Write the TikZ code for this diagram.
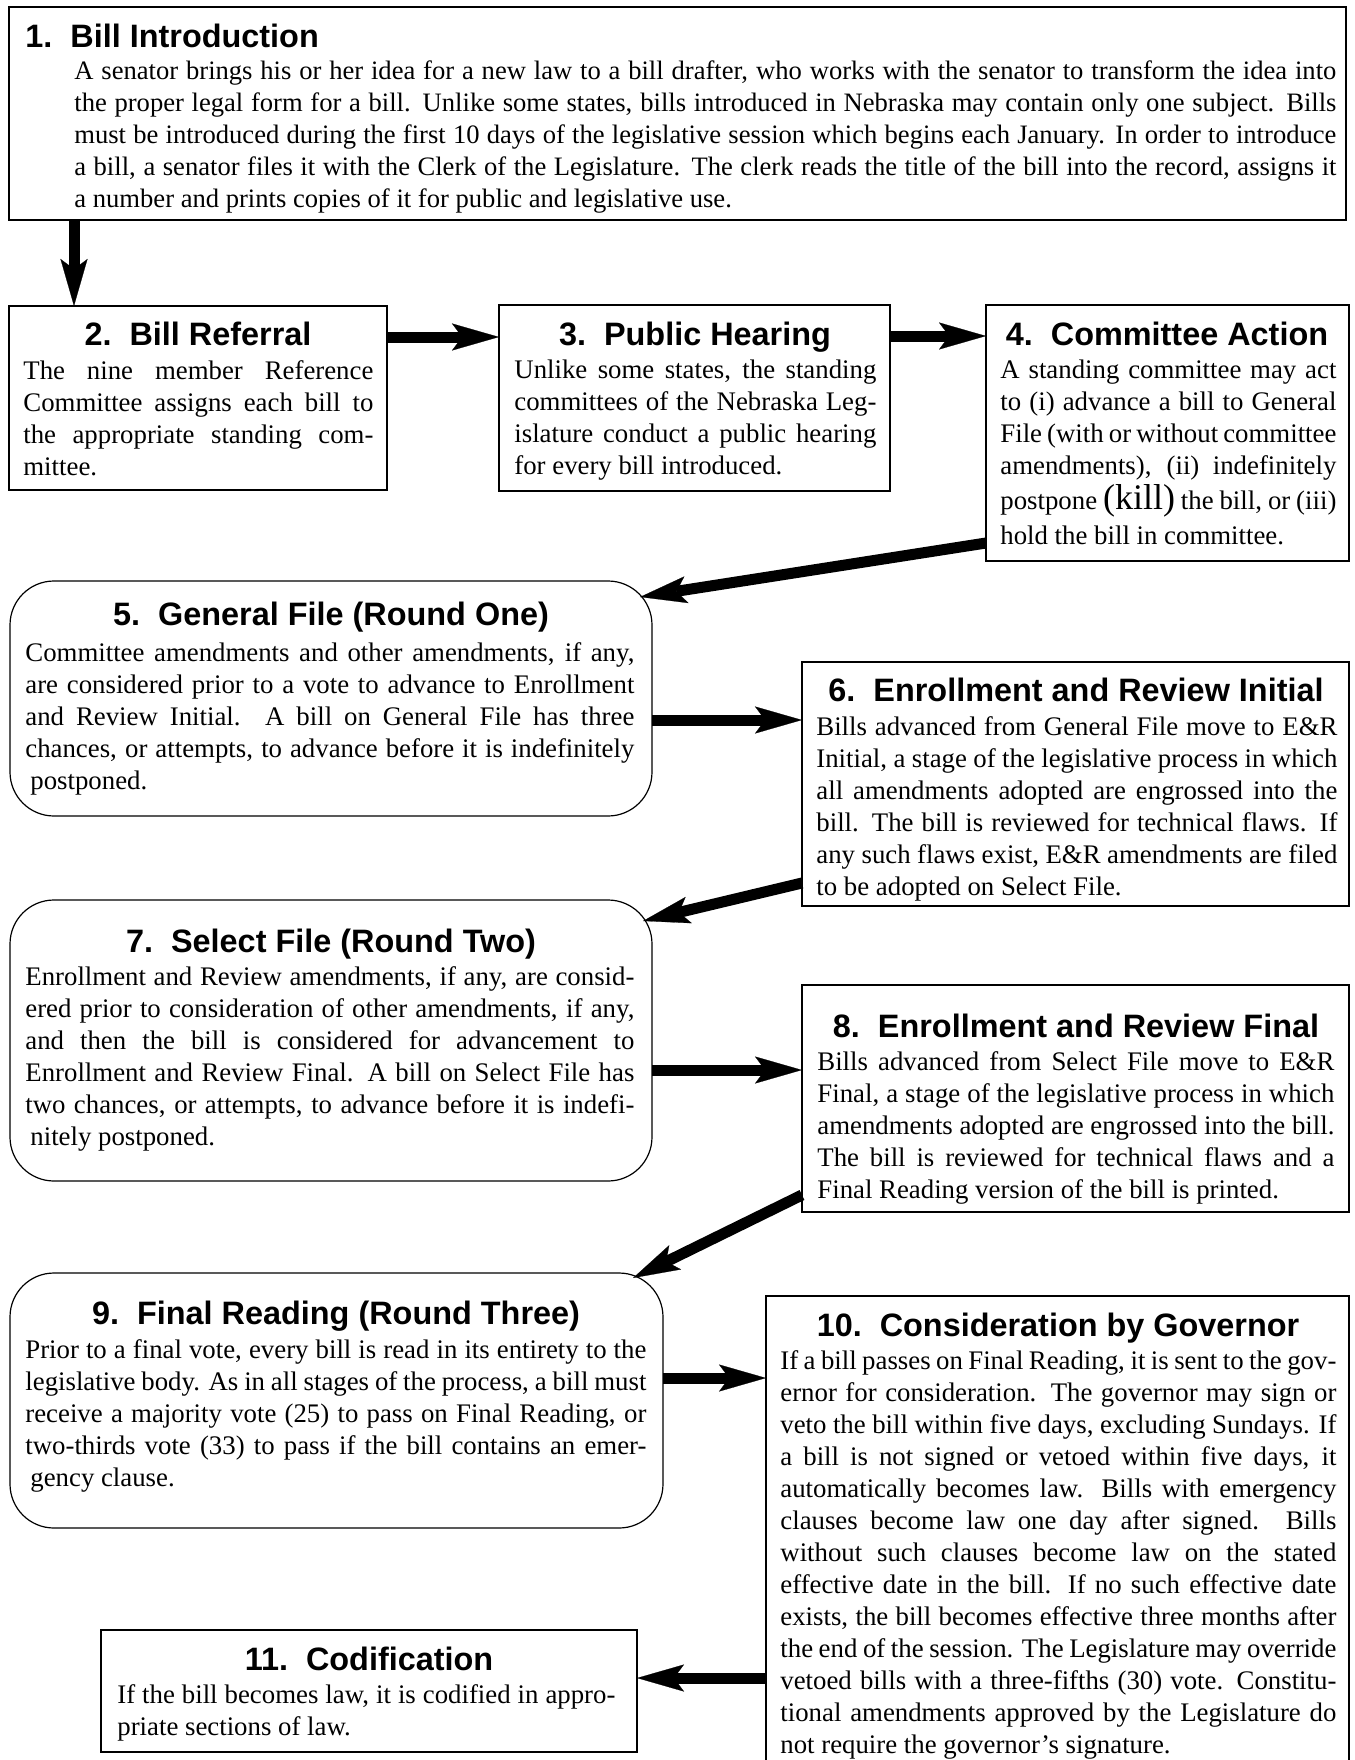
\documentclass[tikz,border=0pt]{standalone}
\usepackage{fontspec}
\setmainfont{Liberation Serif}
\newfontfamily\headfont{Liberation Sans}
\usetikzlibrary{arrows.meta,calc,fit}
\newcommand\bodysize{\fontsize{13.4pt}{16pt}\selectfont}
\newcommand\Ln[1]{\hbox to\hsize{#1}}
\newcommand\Le[1]{\hbox{#1}}
\newcommand\Body[2]{\vtop{\hsize=#1\relax\bodysize #2}}
\tikzset{
  sqbox/.style={draw, line width=0.6pt, inner sep=0pt, outer sep=0pt},
  rdbox/.style={sqbox, rounded corners=22pt},
  ttl/.style={inner sep=0pt, font=\headfont\bfseries\fontsize{16.2pt}{19pt}\selectfont},
  txt/.style={inner sep=0pt, anchor=base west},
  arr/.style={line width=5.5pt, -{Stealth[length=23.5pt,width=13.5pt,inset=5pt,line width=0.1pt]}}
}
\begin{document}
\begin{tikzpicture}[x=0.5pt,y=-0.5pt]
\useasboundingbox (0,0) rectangle (1354,1760);
% boxes
\node[sqbox, fit={(9,7) (1346,220)}] (b1) {};
\node[sqbox, fit={(9,306) (387,490)}] (b2) {};
\node[sqbox, fit={(499,305) (890,491)}] (b3) {};
\node[sqbox, fit={(986,305) (1349,561)}] (b4) {};
\node[rdbox, fit={(10,581) (652,816)}] (b5) {};
\node[sqbox, fit={(802,662) (1349,906)}] (b6) {};
\node[rdbox, fit={(10,900) (652,1181)}] (b7) {};
\node[sqbox, fit={(802,985) (1349,1212)}] (b8) {};
\node[rdbox, fit={(10,1273) (663,1528)}] (b9) {};
\node[sqbox, fit={(766,1296) (1349,1780)}] (b10) {};
\node[sqbox, fit={(101,1630) (637,1752)}] (b11) {};
% titles
\node[ttl, anchor=base west] (h1) at (25,48) {1.\ \ Bill Introduction};
\node[ttl, anchor=base] (h2) at (198,345) {2.\ \ Bill Referral};
\node[ttl, anchor=base] (h3) at (695,345) {3.\ \ Public Hearing};
\node[ttl, anchor=base] (h4) at (1167,345) {4.\ \ Committee Action};
\node[ttl, anchor=base] (h5) at (331,625) {5.\ \ General File (Round One)};
\node[ttl, anchor=base] (h6) at (1076,701) {6.\ \ Enrollment and Review Initial};
\node[ttl, anchor=base] (h7) at (331,952) {7.\ \ Select File (Round Two)};
\node[ttl, anchor=base] (h8) at (1076,1037) {8.\ \ Enrollment and Review Final};
\node[ttl, anchor=base] (h9) at (336,1324) {9.\ \ Final Reading (Round Three)};
\node[ttl, anchor=base] (h10) at (1058,1336) {10.\ \ Consideration by Governor};
\node[ttl, anchor=base] (h11) at (369,1670) {11.\ \ Codification};
% texts
\node[txt] (t1) at (74,80) {\vtop{\hsize=631pt\relax\fontsize{13.3pt}{16pt}\selectfont
\Ln{A senator brings his or her idea for a new law to a bill drafter, who works with the senator to transform the idea into}%
\Ln{the proper legal form for a bill.  Unlike some states, bills introduced in Nebraska may contain only one subject.  Bills}%
\Ln{must be introduced during the first 10 days of the legislative session which begins each January.  In order to introduce}%
\Ln{a bill, a senator files it with the Clerk of the Legislature.  The clerk reads the title of the bill into the record, assigns it}%
\Le{a number and prints copies of it for public and legislative use.}}};
\node[txt] (t2) at (23,379) {\Body{175pt}{%
\Ln{The nine member Reference}%
\Ln{Committee assigns each bill to}%
\Ln{the appropriate standing com-}%
\Le{mittee.}}};
\node[txt] (t3) at (514,378) {\Body{181pt}{%
\Ln{Unlike some states, the standing}%
\Ln{committees of the Nebraska Leg-}%
\Ln{islature conduct a public hearing}%
\Le{for every bill introduced.}}};
\node[txt] (t4) at (1000,378) {\Body{168pt}{%
\Ln{A standing committee may act}%
\Ln{to (i) advance a bill to General}%
\Ln{File (with or without committee}%
\Ln{amendments), (ii) indefinitely}%
\kern1.6pt
\Ln{postpone {\fontsize{18pt}{16pt}\selectfont (kill)} the bill, or (iii)}%
\kern1.4pt
\Le{hold the bill in committee.}}};
\node[txt] (t5) at (25,661) {\Body{304.5pt}{%
\Ln{Committee amendments and other amendments, if any,}%
\Ln{are considered prior to a vote to advance to Enrollment}%
\Ln{and Review Initial.  A bill on General File has three}%
\Ln{chances, or attempts, to advance before it is indefinitely}%
\Le{\hspace*{2.5pt}postponed.}}};
\node[txt] (t6) at (816,735) {\Body{260.5pt}{%
\Ln{Bills advanced from General File move to E\&R}%
\Ln{Initial, a stage of the legislative process in which}%
\Ln{all amendments adopted are engrossed into the}%
\Ln{bill.  The bill is reviewed for technical flaws.  If}%
\Ln{any such flaws exist, E\&R amendments are filed}%
\Le{to be adopted on Select File.}}};
\node[txt] (t7) at (25,985) {\Body{304.5pt}{%
\Ln{Enrollment and Review amendments, if any, are consid-}%
\Ln{ered prior to consideration of other amendments, if any,}%
\Ln{and then the bill is considered for advancement to}%
\Ln{Enrollment and Review Final.  A bill on Select File has}%
\Ln{two chances, or attempts, to advance before it is indefi-}%
\Le{\hspace*{2.5pt}nitely postponed.}}};
\node[txt] (t8) at (817,1070) {\Body{258.5pt}{%
\Ln{Bills advanced from Select File move to E\&R}%
\Ln{Final, a stage of the legislative process in which}%
\Ln{amendments adopted are engrossed into the bill.}%
\Ln{The bill is reviewed for technical flaws and a}%
\Le{Final Reading version of the bill is printed.}}};
\node[txt] (t9) at (25,1358) {\Body{310.5pt}{%
\Ln{Prior to a final vote, every bill is read in its entirety to the}%
\Ln{legislative body.  As in all stages of the process, a bill must}%
\Ln{receive a majority vote (25) to pass on Final Reading, or}%
\Ln{two-thirds vote (33) to pass if the bill contains an emer-}%
\Le{\hspace*{2.5pt}gency clause.}}};
\node[txt] (t10) at (780,1369) {\Body{278pt}{%
\Ln{If a bill passes on Final Reading, it is sent to the gov-}%
\Ln{ernor for consideration.  The governor may sign or}%
\Ln{veto the bill within five days, excluding Sundays.  If}%
\Ln{a bill is not signed or vetoed within five days, it}%
\Ln{automatically becomes law.  Bills with emergency}%
\Ln{clauses become law one day after signed.  Bills}%
\Ln{without such clauses become law on the stated}%
\Ln{effective date in the bill.  If no such effective date}%
\Ln{exists, the bill becomes effective three months after}%
\Ln{the end of the session. The Legislature may override}%
\Ln{vetoed bills with a three-fifths (30) vote.  Constitu-}%
\Ln{tional amendments approved by the Legislature do}%
\Le{not require the governor’s signature.}}};
\node[txt] (t11) at (117,1703) {\Body{249pt}{%
\Ln{If the bill becomes law, it is codified in appro-}%
\Le{priate sections of law.}}};
% arrows
\draw[arr] ($(b1.south west)+(65,0)$) -- ($(b2.north west)+(65,0)$);
\draw[arr] ($(b2.north east)+(0,31)$) -- ($(b3.north west)+(0,32)$);
\draw[arr] ($(b3.north east)+(0,31)$) -- ($(b4.north west)+(0,31)$);
\draw[arr] ($(b4.north west)+(0,238)$) -- ($(b5.north east)+(-12,16)$);
\draw[arr] ($(b5.north east)+(0,139)$) -- ($(b6.north west)+(0,58)$);
\draw[arr] ($(b6.north west)+(0,221)$) -- ($(b7.north east)+(-9,21)$);
\draw[arr] ($(b7.north east)+(0,170)$) -- ($(b8.north west)+(0,85)$);
\draw[arr] ($(b8.north west)+(0,210)$) -- ($(b9.north east)+(-30,5)$);
\draw[arr] ($(b9.north east)+(0,105)$) -- ($(b10.north west)+(0,82)$);
\draw[arr] ($(b10.north west)+(0,382)$) -- ($(b11.north east)+(0,48)$);
\end{tikzpicture}
\end{document}
